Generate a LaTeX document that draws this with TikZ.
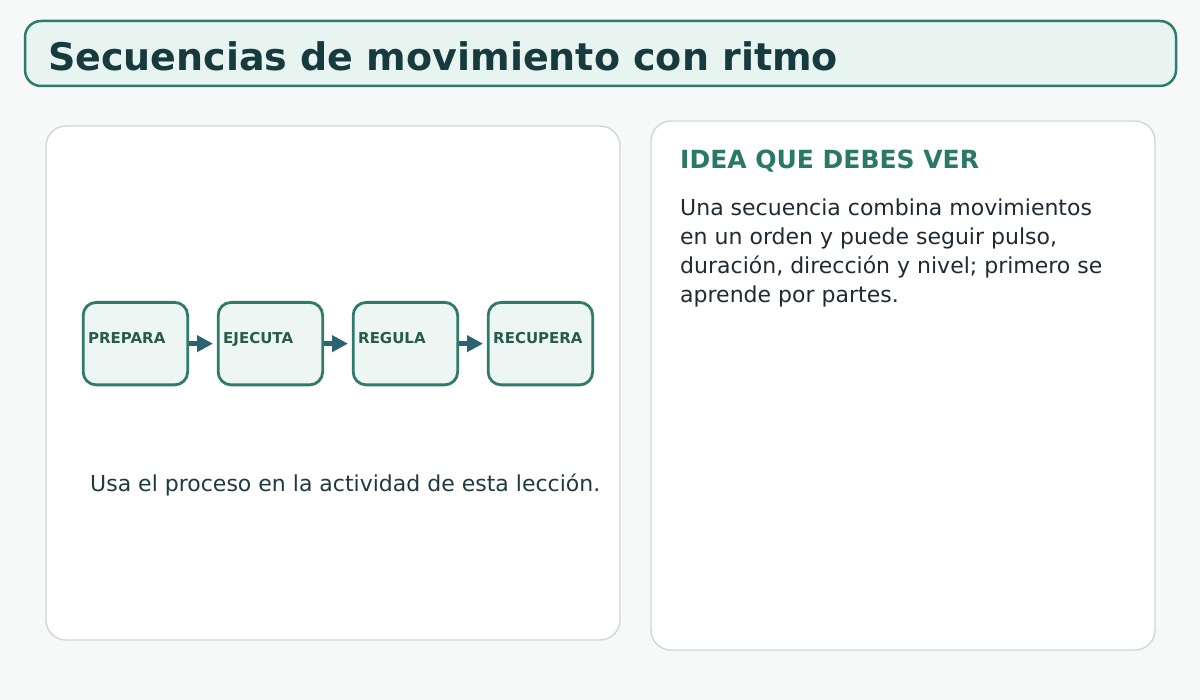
\documentclass[tikz,border=0pt]{standalone}
\usepackage{fontspec}
\setmainfont{DejaVu Sans}
\usetikzlibrary{arrows.meta,positioning}
\definecolor{bgc}{HTML}{F7F9F8}
\definecolor{titlefill}{HTML}{E8F4F0}
\definecolor{titledraw}{HTML}{2E7B6F}
\definecolor{titletext}{HTML}{163A3E}
\definecolor{panelline}{HTML}{CFD7DA}
\definecolor{flowfill}{HTML}{EDF6F2}
\definecolor{flowdraw}{HTML}{2F7A6A}
\definecolor{flowtext}{HTML}{285A4E}
\definecolor{arrowc}{HTML}{2B6373}
\definecolor{headc}{HTML}{2A7866}
\definecolor{bodyc}{HTML}{1F2A36}
\definecolor{footc}{HTML}{1F3A40}
\tikzset{
  panel/.style={draw=panelline, line width=1.4pt, fill=white, rounded corners=20pt},
  flowbox/.style={draw=flowdraw, line width=2.8pt, fill=flowfill, rounded corners=13pt,
     minimum width=104.5pt, minimum height=82.5pt, inner sep=0pt, anchor=north west},
  flowlabel/.style={font=\fontsize{15}{18}\selectfont\bfseries, text=flowtext, anchor=base west, inner sep=0pt},
  flowarrow/.style={draw=arrowc, line width=5pt, -{Triangle[length=16pt,width=16pt]}, shorten >=3.75pt},
  txt/.style={inner sep=0pt, anchor=base west}
}
\begin{document}
\begin{tikzpicture}[x=1pt,y=-1pt]
\useasboundingbox (0,0) rectangle (1200,700);
\fill[bgc] (0,0) rectangle (1200,700);
% title
\draw[draw=titledraw, line width=2.5pt, fill=titlefill, rounded corners=16pt] (25,21) rectangle (1176,86);
\node[txt, font=\fontsize{38}{44}\selectfont\bfseries, text=titletext] (title) at (48,71) {Secuencias de movimiento con ritmo};
% panels
\draw[panel] (46,126) rectangle (620,640);
\draw[panel] (651,121) rectangle (1155,650);
% flow boxes
\node[flowbox] (b1) at (81.75,301) {};
\node[flowbox] (b2) at (216.75,301) {};
\node[flowbox] (b3) at (351.75,301) {};
\node[flowbox] (b4) at (486.75,301) {};
\node[flowlabel] (l1) at (88,344) {PREPARA};
\node[flowlabel] (l2) at (223,344) {EJECUTA};
\node[flowlabel] (l3) at (358,344) {REGULA};
\node[flowlabel] (l4) at (493,344) {RECUPERA};
\draw[flowarrow] (b1.east) -- (b2.west);
\draw[flowarrow] (b2.east) -- (b3.west);
\draw[flowarrow] (b3.east) -- (b4.west);
% footer text
\node[txt, font=\fontsize{22}{29}\selectfont, text=footc] (foot) at (90,492) {Usa el proceso en la actividad de esta lección.};
% right panel
\node[txt, font=\fontsize{25}{29}\selectfont\bfseries, text=headc] (head) at (680,169) {IDEA QUE DEBES VER};
\node[txt, font=\fontsize{22}{29}\selectfont, text=bodyc] (body1) at (680,216) {Una secuencia combina movimientos};
\node[txt, font=\fontsize{22}{29}\selectfont, text=bodyc] (body2) at (680,245) {en un orden y puede seguir pulso,};
\node[txt, font=\fontsize{22}{29}\selectfont, text=bodyc] (body3) at (680,274) {duración, dirección y nivel; primero se};
\node[txt, font=\fontsize{22}{29}\selectfont, text=bodyc] (body4) at (680,303) {aprende por partes.};
\end{tikzpicture}
\end{document}
